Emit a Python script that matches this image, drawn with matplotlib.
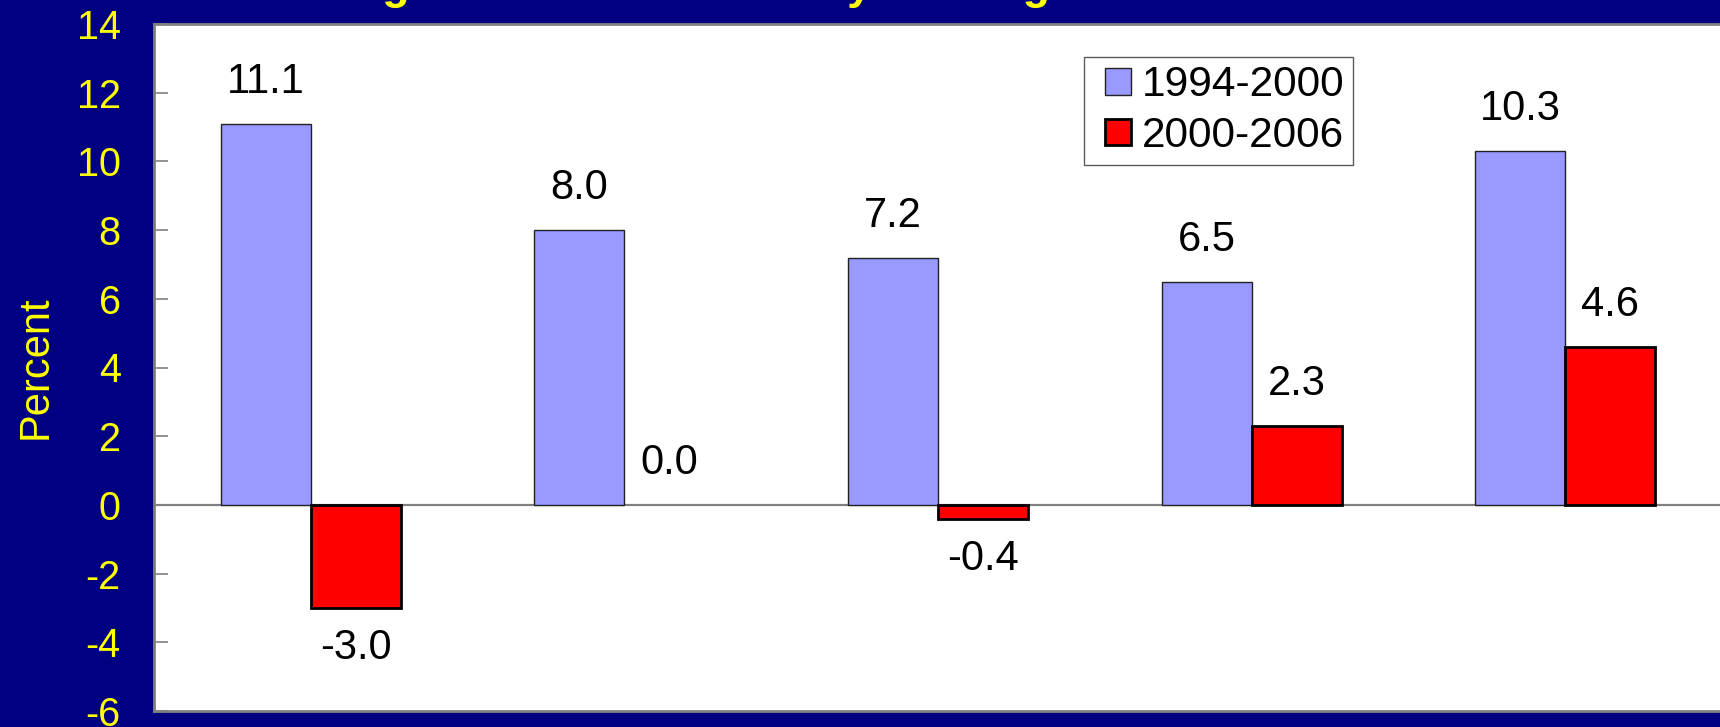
import matplotlib
matplotlib.use("Agg")
import matplotlib.pyplot as plt
from matplotlib.patches import Rectangle
from matplotlib.legend_handler import HandlerPatch, update_from_first_child
from matplotlib.container import BarContainer
import numpy as np

# ---- data ----
categories = ["Group 1", "Group 2", "Group 3", "Group 4", "Group 5"]
series_names = ["1994-2000", "2000-2006"]
values_1994_2000 = [11.1, 8.0, 7.2, 6.5, 10.3]
values_2000_2006 = [-3.0, 0.0, -0.4, 2.3, 4.6]
y_ticks = [-6, -4, -2, 0, 2, 4, 6, 8, 10, 12, 14]
title_text = "Change in Real Mean Hourly Earnings of Full-Time Workers"
y_label = "Percent"

NAVY = "#000080"
YELLOW = "#FFFF00"
BLUE = "#9999FF"
RED = "#FF0000"
GRAY = "#808080"

plt.rcParams["font.family"] = ["Liberation Sans", "DejaVu Sans"]

W, H = 1720, 727
fig = plt.figure(figsize=(W / 100, H / 100), dpi=100, facecolor=NAVY)
ax = fig.add_axes([154 / W, 16 / H, 1568 / W, 687 / H])
ax.set_facecolor("white")

x = np.arange(len(categories))
bw = 0.287
b1 = ax.bar(x - bw / 2, values_1994_2000, bw, color=BLUE, edgecolor="#222222",
            linewidth=1.0, label=series_names[0], zorder=3)
b2 = ax.bar(x + bw / 2, values_2000_2006, bw, color=RED, edgecolor="black",
            linewidth=2.0, label=series_names[1], zorder=3)
for bars, vals in ((b1, values_1994_2000), (b2, values_2000_2006)):
    for rect, v in zip(bars, vals):
        if v == 0:
            rect.set_linewidth(0)

ax.axhline(0, color=GRAY, linewidth=1.6, zorder=2)

for bars, vals in ((b1, values_1994_2000), (b2, values_2000_2006)):
    for rect, v in zip(bars, vals):
        cx = rect.get_x() + rect.get_width() / 2
        off = 30 if v >= 0 else -29
        ax.annotate(f"{v:.1f}", xy=(cx, v), xytext=(0, off),
                    textcoords="offset points", ha="center", va="center",
                    fontsize=30, color="black", zorder=5)

ax.set_xlim(-0.5, len(categories) - 0.5)
ax.set_ylim(-6, 14)
ax.set_yticks(y_ticks)
ax.set_yticklabels([str(t) for t in y_ticks])
ax.set_xticks([])
ax.tick_params(axis="y", direction="in", length=10, width=1.2, color=GRAY,
               labelcolor=YELLOW, labelsize=28.5, pad=24)

for side in ("left", "top", "bottom"):
    ax.spines[side].set_color(GRAY)
    ax.spines[side].set_linewidth(2.0)
ax.spines["right"].set_visible(False)

ax.set_ylabel(y_label, color=YELLOW, fontsize=30)
ax.yaxis.set_label_coords((56 - 154) / 1568, 0.5)

SQ = 19.0  # legend square size in points


def square_patch(legend, orig_handle, xdescent, ydescent, width, height, fontsize):
    return Rectangle((-xdescent + width - SQ, -ydescent + (height - SQ) / 2), SQ, SQ)


leg = ax.legend(loc="upper left", bbox_to_anchor=(1084 / W, 1 - 57 / H),
                bbox_transform=fig.transFigure, fontsize=30.5, frameon=True,
                fancybox=False, shadow=False, handlelength=0.92,
                handleheight=0.7, handletextpad=0.25, labelspacing=0.25,
                borderpad=0.2, borderaxespad=0,
                handler_map={BarContainer: HandlerPatch(
                    patch_func=square_patch, update_func=update_from_first_child)})
leg.get_frame().set_edgecolor("#333333")
leg.get_frame().set_linewidth(1.0)
leg.set_zorder(6)

fig.text(271 / W, 1 + 0.5 / H, title_text, ha="left", va="baseline",
         fontsize=32, fontweight="bold", color=YELLOW)

fig.savefig("out.png", dpi=100, facecolor=NAVY)
